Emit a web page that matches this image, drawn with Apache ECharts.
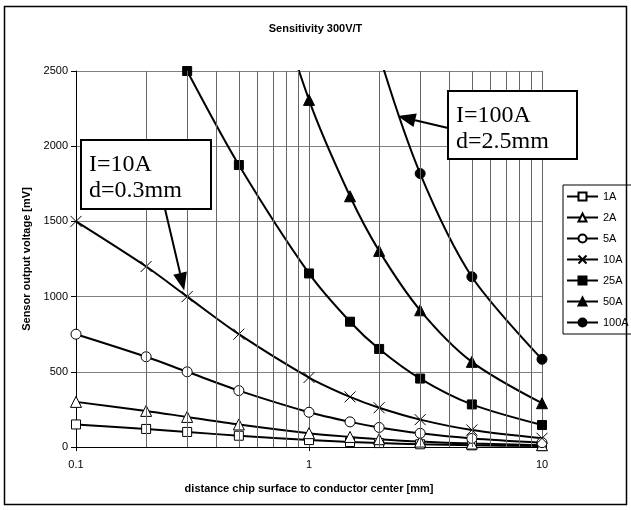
<!DOCTYPE html>
<html>
<head>
<meta charset="utf-8">
<script src="https://cdn.jsdelivr.net/npm/echarts@6/dist/echarts.min.js"></script>
<style>
html, body { margin: 0; padding: 0; background: #fff; }
#chart { width: 631px; height: 510px; }
</style>
</head>
<body>
<div id="chart"></div>
<script>
// distances [mm] where the curves have points
const distances = [0.1, 0.2, 0.3, 0.5, 1, 1.5, 2, 3, 5, 10];
// minor vertical grid lines of the log axis
const minorGrid = [0.2, 0.3, 0.4, 0.5, 0.6, 0.7, 0.8, 0.9, 2, 3, 4, 5, 6, 7, 8, 9];
const seriesNames = ['1A', '2A', '5A', '10A', '25A', '50A', '100A'];

// sensor output [mV]
const v1A = [150, 120, 100, 75, 46, 33, 26, 18, 11, 6];
const v2A = [300, 240, 200, 150, 92, 67, 52, 36, 23, 12];
const v5A = [750, 600, 500, 375, 231, 167, 130, 91, 57, 29];
const v10A = [1500, 1200, 1000, 750, 462, 333, 261, 182, 113, 58];
const v25A = [null, null, 2500, 1875, 1154, 833, 652, 455, 283, 146];
const v50A = [null, null, null, 3750, 2308, 1667, 1304, 909, 566, 291];
const v100A = [null, null, null, null, null, 3333, 2609, 1818, 1132, 583];

// callouts: text and the point each arrow points at [mm, mV]
const callout10A = { lines: ['I=10A', 'd=0.3mm'], at: [0.3, 1000] };
const callout100A = { lines: ['I=100A', 'd=2.5mm'], at: [2.4, 2200] };

const xMark = 'path://M0,0L10,10M10,0L0,10';

function lineSeries(name, values, symbol, size, filled) {
  return {
    name: name,
    type: 'line',
    smooth: 0.3,
    data: distances.map((d, i) => [d, values[i]]).filter(p => p[1] != null),
    symbol: symbol,
    symbolSize: size,
    showSymbol: true,
    showAllSymbol: true,
    clip: true,
    lineStyle: { color: '#000', width: 2 },
    itemStyle: { color: filled ? '#000' : '#fff', borderColor: '#000', borderWidth: 1 },
    emphasis: { disabled: true },
    z: 3
  };
}

const chart = echarts.init(document.getElementById('chart'));

chart.setOption({
  animation: false,
  backgroundColor: '#fff',
  title: {
    text: 'Sensitivity 300V/T',
    left: 'center',
    top: 18,
    textStyle: { fontFamily: 'Arial', fontSize: 11, fontWeight: 'bold', color: '#000' }
  },
  legend: {
    data: seriesNames,
    orient: 'vertical',
    left: 563,
    top: 185,
    itemWidth: 31,
    itemHeight: 10,
    itemGap: 10,
    padding: [6, 6, 6, 3],
    borderColor: '#000',
    borderWidth: 1,
    textStyle: { fontFamily: 'Arial', fontSize: 11, color: '#000' }
  },
  grid: { left: 76, right: 89, top: 71, bottom: 63, containLabel: false },
  xAxis: {
    type: 'log',
    logBase: 10,
    min: 0.1,
    max: 10,
    name: 'distance chip surface to conductor center [mm]',
    nameLocation: 'middle',
    nameGap: 36,
    nameTextStyle: { fontFamily: 'Arial', fontSize: 11, fontWeight: 'bold', color: '#000' },
    axisLine: { lineStyle: { color: '#000', width: 1 } },
    axisTick: { show: true, length: 4, lineStyle: { color: '#000' } },
    axisLabel: { fontFamily: 'Arial', fontSize: 11, color: '#000', margin: 12 },
    splitLine: { show: true, lineStyle: { color: '#666', width: 1 } }
  },
  yAxis: {
    type: 'value',
    min: 0,
    max: 2500,
    interval: 500,
    name: 'Sensor output voltage [mV]',
    nameLocation: 'middle',
    nameGap: 40,
    nameRotate: 90,
    nameTextStyle: { fontFamily: 'Arial', fontSize: 11, fontWeight: 'bold', color: '#000' },
    axisLine: { show: true, lineStyle: { color: '#000', width: 1 } },
    axisTick: { show: true, length: 5, lineStyle: { color: '#000' } },
    axisLabel: { fontFamily: 'Arial', fontSize: 11, color: '#000', margin: 8, formatter: v => String(v) },
    splitLine: { show: true, lineStyle: { color: '#808080', width: 1 } }
  },
  series: [
    {
      name: 'grid',
      type: 'line',
      data: [],
      silent: true,
      z: 1,
      markLine: {
        silent: true,
        symbol: 'none',
        label: { show: false },
        lineStyle: { color: '#666', width: 1, type: 'solid' },
        emphasis: { disabled: true },
        data: minorGrid.map(v => ({ xAxis: v }))
      }
    },
    lineSeries('1A', v1A, 'rect', 9, false),
    lineSeries('2A', v2A, 'triangle', 11, false),
    lineSeries('5A', v5A, 'circle', 10, false),
    lineSeries('10A', v10A, xMark, 11, false),
    lineSeries('25A', v25A, 'rect', 9, true),
    lineSeries('50A', v50A, 'triangle', 11, true),
    lineSeries('100A', v100A, 'circle', 10, true)
  ]
});

function arrow(x1, y1, x2, y2) {
  const dx = x2 - x1, dy = y2 - y1;
  const len = Math.sqrt(dx * dx + dy * dy);
  const ux = dx / len, uy = dy / len;
  const head = 18, half = 7;
  const bx = x2 - ux * head, by = y2 - uy * head;
  return [
    { type: 'line', z: 100, shape: { x1: x1, y1: y1, x2: bx, y2: by }, style: { stroke: '#000', lineWidth: 2 } },
    {
      type: 'polygon', z: 100,
      shape: { points: [[x2, y2], [bx - uy * half, by + ux * half], [bx + uy * half, by - ux * half]] },
      style: { fill: '#000' }
    }
  ];
}

function box(c, x, y, w, h) {
  return [
    { type: 'rect', z: 100, shape: { x: x, y: y, width: w, height: h }, style: { fill: '#fff', stroke: '#000', lineWidth: 2 } },
    { type: 'text', z: 101, style: { text: c.lines[0], x: x + 8, y: y + 25, fill: '#000', fontSize: 24, fontFamily: 'Liberation Serif', verticalAlign: 'middle' } },
    { type: 'text', z: 101, style: { text: c.lines[1], x: x + 8, y: y + 51, fill: '#000', fontSize: 24, fontFamily: 'Liberation Serif', verticalAlign: 'middle' } }
  ];
}

const tip10 = chart.convertToPixel({ xAxisIndex: 0, yAxisIndex: 0 }, callout10A.at);
const tip100 = chart.convertToPixel({ xAxisIndex: 0, yAxisIndex: 0 }, callout100A.at);

chart.setOption({
  graphic: [
    { type: 'rect', z: 100, shape: { x: 4.5, y: 6.5, width: 622, height: 498 }, style: { fill: 'none', stroke: '#000', lineWidth: 1.5 } }
  ]
    .concat(arrow(165, 209, tip10[0] - 3, tip10[1] - 6))
    .concat(box(callout10A, 81, 140, 130, 69))
    .concat(arrow(448, 128, tip100[0], tip100[1]))
    .concat(box(callout100A, 448, 91, 129, 68))
});

window.addEventListener('resize', () => chart.resize());
</script>
</body>
</html>
